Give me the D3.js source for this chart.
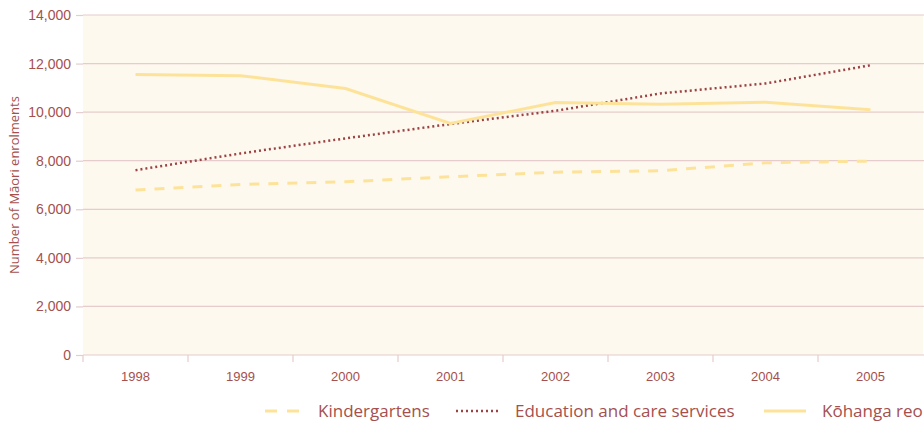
<!DOCTYPE html>
<html><head><meta charset="utf-8">
<script src="https://cdn.jsdelivr.net/npm/d3@7/dist/d3.min.js"></script>
<style>body{margin:0;background:#fff;}svg{display:block;font-family:"Open Sans","Noto Sans",sans-serif;}</style>
</head><body>
<script>
const years = ["1998","1999","2000","2001","2002","2003","2004","2005"];
const kindergartens = [6790,7025,7135,7340,7530,7585,7915,7985];
const educationCare = [7610,8300,8920,9510,10055,10770,11180,11930];
const kohangaReo = [11550,11500,10975,9535,10400,10330,10410,10100];
const yTicks = [0,2000,4000,6000,8000,10000,12000,14000];
const seriesNames = ["Kindergartens","Education and care services","Kōhanga reo"];

const W=924,H=426;
const m={left:83,right:1,top:15,bottom:71};
const textCol="#a4504e", gridCol="#e6cccc", bgCol="#fef9ef", yellow="#fde39a", brown="#9b4242";
const svg=d3.select("body").append("svg").attr("width",W).attr("height",H);
const x=d3.scaleBand().domain(years).range([m.left,W-m.right]);
const y=d3.scaleLinear().domain([0,14000]).range([H-m.bottom,m.top]);

svg.append("rect").attr("x",m.left).attr("y",m.top).attr("width",W-m.right-m.left).attr("height",y(0)-m.top).attr("fill",bgCol);

const ya=svg.append("g").attr("transform",`translate(${m.left},0)`)
 .call(d3.axisLeft(y).tickValues(yTicks).tickFormat(d3.format(",")).tickSize(7).tickPadding(5));
ya.select(".domain").remove();
ya.selectAll(".tick line").attr("stroke",gridCol).attr("stroke-width",1.2);
ya.selectAll(".tick text").attr("fill",textCol).style("font-size","14px");
svg.append("g").selectAll("line").data(yTicks).join("line")
 .attr("x1",m.left).attr("x2",W).attr("y1",d=>y(d)).attr("y2",d=>y(d))
 .attr("stroke",gridCol).attr("stroke-width",1.2);

const xa=svg.append("g").attr("transform",`translate(0,${y(0)})`)
 .call(d3.axisBottom(x).tickSize(0).tickPadding(17));
xa.select(".domain").remove();
xa.selectAll(".tick text").attr("fill",textCol).style("font-size","13px");
svg.append("g").selectAll("line").data(years).join("line")
 .attr("x1",d=>x(d)).attr("x2",d=>x(d)).attr("y1",y(0)).attr("y2",y(0)+7)
 .attr("stroke",gridCol).attr("stroke-width",1.2);

svg.append("text").attr("transform",`translate(19,${(m.top+y(0))/2}) rotate(-90)`)
 .attr("text-anchor","middle").attr("fill",textCol).style("font-size","13px").text("Number of Māori enrolments");

const line=d3.line().x((d,i)=>x(years[i])+x.bandwidth()/2).y(d=>y(d));
const styles=[
 {data:kindergartens,stroke:yellow,w:3,dash:"10,9"},
 {data:educationCare,stroke:brown,w:2.5,dash:"2,3"},
 {data:kohangaReo,stroke:yellow,w:3,dash:null}
];
styles.forEach(s=>{
 svg.append("path").datum(s.data).attr("d",line).attr("fill","none")
  .attr("stroke",s.stroke).attr("stroke-width",s.w).attr("stroke-dasharray",s.dash);
});

const leg=[{x1:265,x2:299,tx:318},{x1:456,x2:498,tx:515},{x1:764,x2:806,tx:822}];
leg.forEach((l,i)=>{
 svg.append("line").attr("x1",l.x1).attr("x2",l.x2).attr("y1",411).attr("y2",411)
  .attr("stroke",styles[i].stroke).attr("stroke-width",styles[i].w).attr("stroke-dasharray",i==0?"12,10":(i==1?"2,3":null));
 svg.append("text").attr("x",l.tx).attr("y",417).attr("fill",textCol).style("font-size","17px").text(seriesNames[i]);
});
</script>
</body></html>
